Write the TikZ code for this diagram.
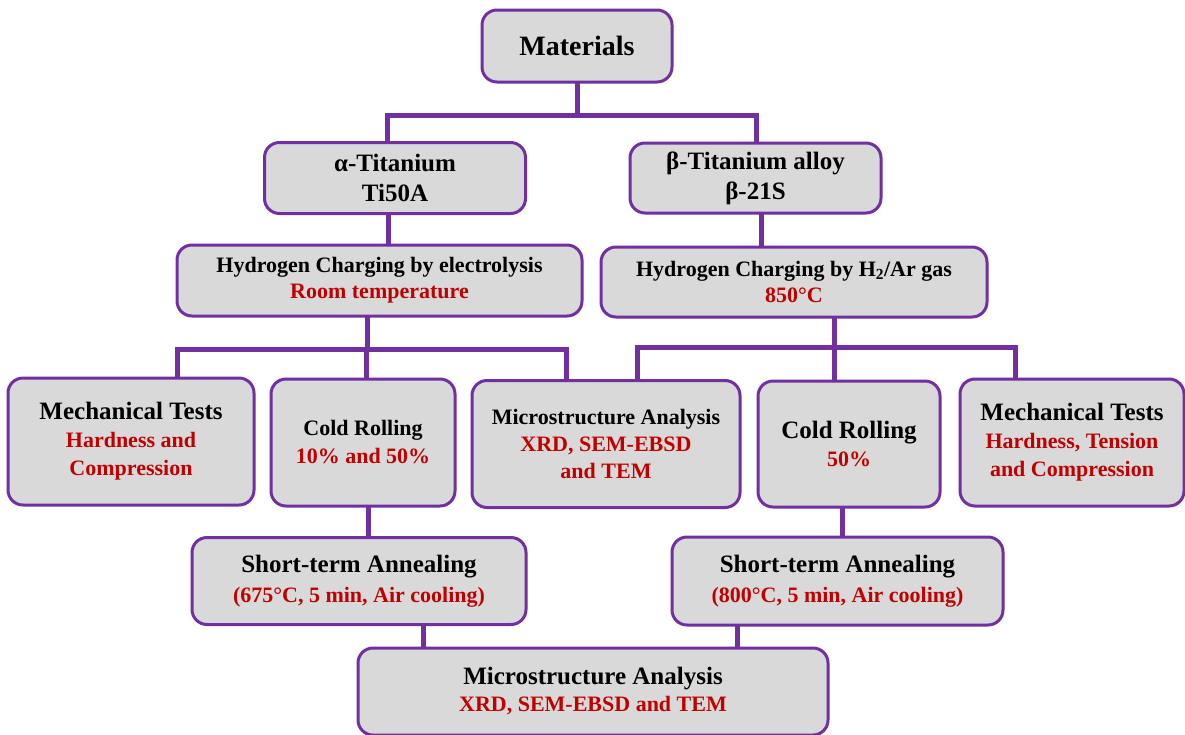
\documentclass[tikz,border=0pt]{standalone}
\usepackage{fontspec}
\setmainfont{Liberation Serif}
\usetikzlibrary{backgrounds}
\definecolor{boxfill}{HTML}{D9D9D9}
\definecolor{boxline}{HTML}{7030A0}
\definecolor{redtxt}{HTML}{C00000}
\newcommand\rtxt[1]{{\color{redtxt}\fontsize{22}{28}\selectfont #1}}
\begin{document}
\begin{tikzpicture}[x=1pt,y=-1pt,
  box/.style={draw=boxline, line width=3pt, fill=boxfill, rounded corners=15pt,
    align=center, inner sep=0pt, outer sep=0pt,
    font=\bfseries\fontsize{25}{28}\selectfont},
  conn/.style={draw=boxline, line width=5pt}]
\clip (0,0) rectangle (1185,734);
% nodes
\node[box, minimum width=190pt, minimum height=72pt, font=\bfseries\fontsize{28}{32}\selectfont] (mat) at (577,46) {Materials};
\node[box, minimum width=261pt, minimum height=71pt, font=\bfseries\fontsize{25}{30}\selectfont] (alpha) at (395,178) {α-Titanium\\Ti50A};
\node[box, minimum width=251pt, minimum height=70pt, font=\bfseries\fontsize{25}{30}\selectfont] (beta) at (755.5,178) {β-Titanium alloy\\β-21S};
\node[box, minimum width=405pt, minimum height=71pt, font=\bfseries\fontsize{22}{26}\selectfont] (hl) at (379.5,280.5) {Hydrogen Charging by electrolysis\\{\color{redtxt}Room temperature}};
\node[box, minimum width=386pt, minimum height=70pt, font=\bfseries\fontsize{22}{26}\selectfont] (hr) at (794,282) {Hydrogen Charging by H\textsubscript{2}/Ar gas\\{\color{redtxt}850°C}};
\node[box, minimum width=246pt, minimum height=127pt] (ml) at (131,441.5) {Mechanical Tests\\\rtxt{Hardness and}\\\rtxt{Compression}};
\node[box, minimum width=184pt, minimum height=127pt, font=\bfseries\fontsize{22}{28}\selectfont] (cl) at (363,442.5) {Cold Rolling\\\rtxt{10\% and 50\%}};
\node[box, minimum width=268pt, minimum height=127pt, font=\bfseries\fontsize{22}{27}\selectfont] (mm) at (606,444) {Microstructure Analysis\\\rtxt{XRD, SEM-EBSD}\\\rtxt{and TEM}};
\node[box, minimum width=182pt, minimum height=126pt] (cr) at (849,444) {Cold Rolling\\\rtxt{50\%}};
\node[box, minimum width=224pt, minimum height=127pt] (mr) at (1072,442.5) {Mechanical Tests\\\rtxt{Hardness, Tension}\\\rtxt{and Compression}};
\node[box, minimum width=334pt, minimum height=87pt, font=\bfseries\fontsize{25}{30}\selectfont] (sl) at (359,581) {Short-term Annealing\\\rtxt{(675°C, 5 min, Air cooling)}};
\node[box, minimum width=331pt, minimum height=88pt, font=\bfseries\fontsize{25}{30}\selectfont] (sr) at (837.5,581) {Short-term Annealing\\\rtxt{(800°C, 5 min, Air cooling)}};
\node[box, minimum width=470pt, minimum height=87pt, font=\bfseries\fontsize{25}{27}\selectfont] (bm) at (593,691.5) {Microstructure Analysis\\\rtxt{XRD, SEM-EBSD and TEM}};
% junction x positions and bus levels
\coordinate (xa) at (387,0);
\coordinate (xb) at (756,0);
\coordinate (xa2) at (388,0);
\coordinate (xb2) at (761,0);
\coordinate (bus0) at (577,115);
\coordinate (xhl) at (367,0);
\coordinate (xhr) at (834,0);
\coordinate (busl) at (0,349);
\coordinate (busr) at (0,347);
\coordinate (xml) at (177,0);
\coordinate (xcl) at (366,0);
\coordinate (xmm1) at (566,0);
\coordinate (xmm2) at (637,0);
\coordinate (xcr) at (834,0);
\coordinate (xmr) at (1015,0);
\coordinate (xcl2) at (368,0);
\coordinate (xcr2) at (842,0);
\coordinate (xsl) at (423,0);
\coordinate (xsr) at (737,0);
\begin{scope}[on background layer]
\draw[conn] (mat.south) -- (bus0);
\draw[conn] (alpha.north -| xa) -- (xa |- bus0) -- (xb |- bus0) -- (beta.north -| xb);
\draw[conn] (alpha.south -| xa2) -- (hl.north -| xa2);
\draw[conn] (beta.south -| xb2) -- (hr.north -| xb2);
\draw[conn] (hl.south -| xhl) -- (xhl |- busl);
\draw[conn] (ml.north -| xml) -- (xml |- busl) -- (xmm1 |- busl) -- (mm.north -| xmm1);
\draw[conn] (cl.north -| xcl) -- (xcl |- busl);
\draw[conn] (hr.south -| xhr) -- (xhr |- busr);
\draw[conn] (mm.north -| xmm2) -- (xmm2 |- busr) -- (xmr |- busr) -- (mr.north -| xmr);
\draw[conn] (cr.north -| xcr) -- (xcr |- busr);
\draw[conn] (cl.south -| xcl2) -- (sl.north -| xcl2);
\draw[conn] (cr.south -| xcr2) -- (sr.north -| xcr2);
\draw[conn] (sl.south -| xsl) -- (bm.north -| xsl);
\draw[conn] (sr.south -| xsr) -- (bm.north -| xsr);
\end{scope}
\end{tikzpicture}
\end{document}
